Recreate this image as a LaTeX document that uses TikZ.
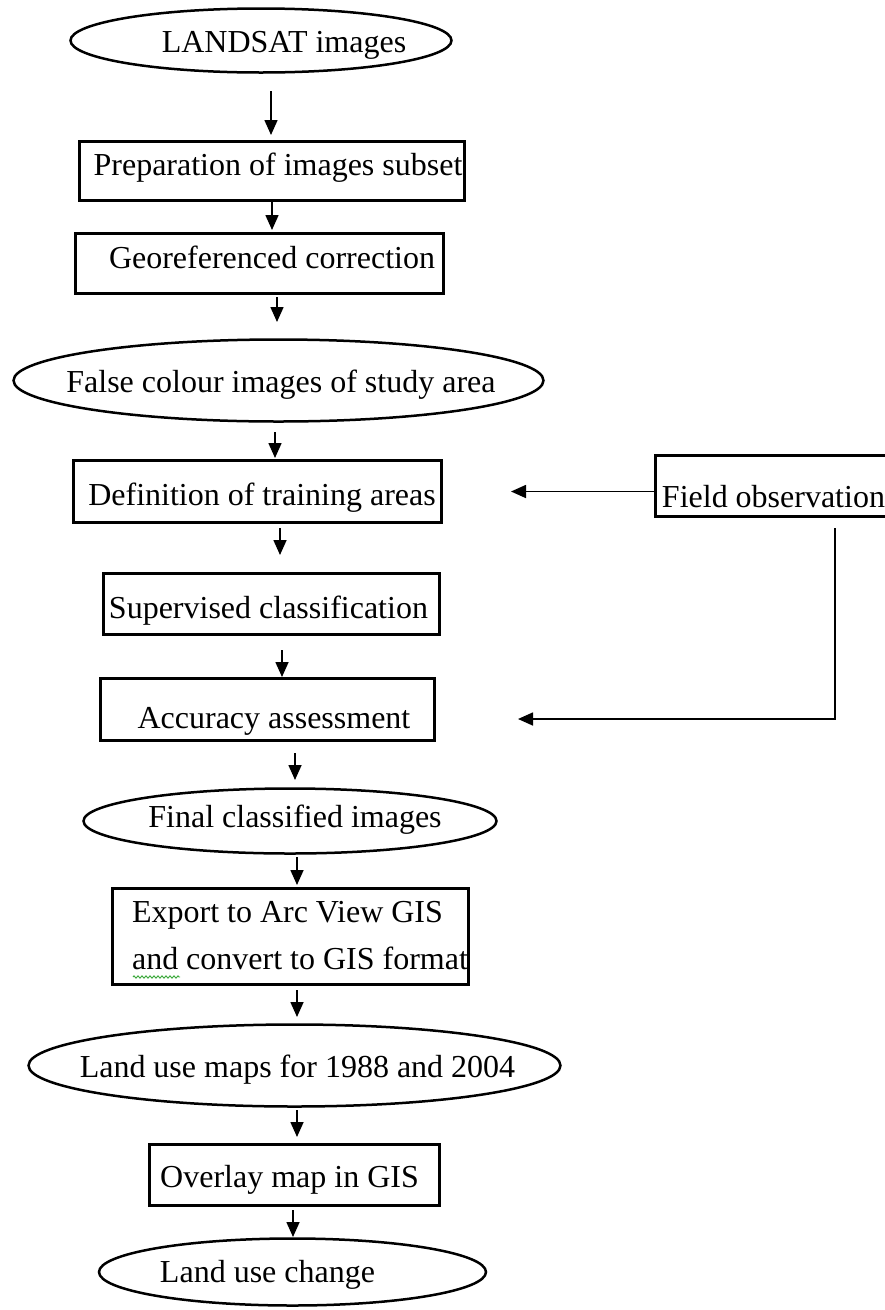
\documentclass[tikz,border=0pt]{standalone}
\usepackage{fontspec}
\setmainfont{Liberation Serif}
\usetikzlibrary{positioning,shapes.geometric,arrows.meta,calc,decorations.pathmorphing}
\definecolor{spellgreen}{RGB}{40,160,40}

\newcommand{\lbl}[2][0pt]{\makebox[0pt]{\hspace*{#1}\hspace*{#1}#2}}

\tikzset{
  stepbox/.style={draw, rectangle, line width=3pt, inner sep=0pt, outer sep=0pt},
  dataoval/.style={draw, ellipse, line width=2.5pt, inner sep=0pt, outer sep=0pt},
  tx/.style={text height=#1, text depth=7pt},
  flow/.style={-{Triangle[length=15pt,width=13pt]}, line width=1.6pt},
}

\begin{document}
\begin{tikzpicture}[font=\fontsize{32}{47}\selectfont]
\useasboundingbox (0,0) rectangle (885pt,-1310pt);
\node[dataoval, minimum width=381pt, minimum height=64pt, tx=31.4pt] (landsat) at (261pt,-40.5pt) {\lbl[23pt]{LANDSAT images}};
\node[stepbox, minimum width=385pt, minimum height=59pt, tx=15pt] (prep) [below=69pt of landsat, xshift=11pt] {\lbl[6pt]{Preparation of images subset}};
\node[stepbox, minimum width=368pt, minimum height=60pt, tx=16pt] (geo) [below=33pt of prep, xshift=-12.5pt] {\lbl[12.5pt]{Georeferenced correction}};
\node[dataoval, minimum width=530pt, minimum height=82pt, tx=30pt] (false) [below=46pt of geo, xshift=19pt] {\lbl[2.5pt]{False colour images of study area}};
\node[stepbox, minimum width=368pt, minimum height=62pt, tx=34pt] (def) [below=39pt of false, xshift=-21pt] {\lbl[4.5pt]{Definition of training areas}};
\node[stepbox, minimum width=236pt, minimum height=61pt, tx=49pt] (field) [right=214pt of def, yshift=5.5pt] {\lbl{Field observation}};
\node[stepbox, minimum width=336pt, minimum height=61pt, tx=35pt] (sup) [below=51pt of def, xshift=14pt] {\lbl[-3pt]{Supervised classification}};
\node[stepbox, minimum width=334pt, minimum height=62pt, tx=44pt] (acc) [below=44pt of sup, xshift=-4pt] {\lbl[6.5pt]{Accuracy assessment}};
\node[dataoval, minimum width=413pt, minimum height=65pt, tx=19pt] (final) [below=48pt of acc, xshift=22.5pt] {\lbl[5pt]{Final classified images}};
\node[stepbox, minimum width=356pt, minimum height=96pt] (export) [below=35pt of final, xshift=0.5pt] {\lbl[9.5pt]{\begin{tabular}{@{}l@{}}Export to Arc View GIS\\and convert to GIS format\end{tabular}}};
\node[dataoval, minimum width=532pt, minimum height=82pt, tx=30pt] (maps) [below=40pt of export, xshift=4pt] {\lbl[3pt]{Land use maps for 1988 and 2004}};
\node[stepbox, minimum width=290pt, minimum height=61pt, tx=31pt] (overlay) [below=38pt of maps] {\lbl[-5pt]{Overlay map in GIS}};
\node[dataoval, minimum width=387pt, minimum height=67pt, tx=27pt] (change) [below=33pt of overlay, xshift=-2pt] {\lbl[-25pt]{Land use change}};
\coordinate (accin) at ([yshift=-9.5pt]acc.east);
% main chain
\draw[flow, shorten <=18.5pt, shorten >=6.5pt] ($(prep.north |- landsat.south)+(-1pt,0)$) -- ($(prep.north)+(-1pt,0)$);
\draw[flow, shorten >=3.5pt] ($(geo.north |- prep.south)+(12.5pt,0)$) -- ($(geo.north)+(12.5pt,0)$);
\draw[flow, shorten <=3.5pt, shorten >=17.5pt] ($(false.north |- geo.south)+(-1.5pt,0)$) -- ($(false.north)+(-1.5pt,0)$);
\draw[flow, shorten <=10.5pt, shorten >=2.5pt] ($(def.north |- false.south)+(17.5pt,0)$) -- ($(def.north)+(17.5pt,0)$);
\draw[flow, shorten <=5.5pt, shorten >=18.5pt] ($(sup.north |- def.south)+(8.5pt,0)$) -- ($(sup.north)+(8.5pt,0)$);
\draw[flow, shorten <=15.5pt, shorten >=1.5pt] ($(acc.north |- sup.south)+(14.5pt,0)$) -- ($(acc.north)+(14.5pt,0)$);
\draw[flow, shorten <=12.5pt, shorten >=8.5pt] ($(final.north |- acc.south)+(5pt,0)$) -- ($(final.north)+(5pt,0)$);
\draw[flow, shorten <=3.5pt, shorten >=3.5pt] ($(export.north |- final.south)+(6.5pt,0)$) -- ($(export.north)+(6.5pt,0)$);
\draw[flow, shorten <=5.5pt, shorten >=7.5pt] ($(maps.north |- export.south)+(2.5pt,0)$) -- ($(maps.north)+(2.5pt,0)$);
\draw[flow, shorten <=3.5pt, shorten >=7.5pt] ($(overlay.north |- maps.south)+(2.5pt,0)$) -- ($(overlay.north)+(2.5pt,0)$);
\draw[flow, shorten <=4.5pt, shorten >=1.5pt] ($(change.north |- overlay.south)+(0.5pt,0)$) -- ($(change.north)+(0.5pt,0)$);
% field data
\draw[flow, shorten >=69.5pt] (field.west |- def.east) -- (def.east);
\draw[flow, shorten <=11.5pt, shorten >=83.5pt] ([xshift=179.5pt]field.south west) |- (accin);
% spell check mark
\draw[spellgreen, line width=0.8pt, decorate, decoration={zigzag, amplitude=1.2pt, segment length=4pt}] ([shift={(20.5pt,7.5pt)}]export.south west) -- ++(47pt,0);
\end{tikzpicture}
\end{document}
